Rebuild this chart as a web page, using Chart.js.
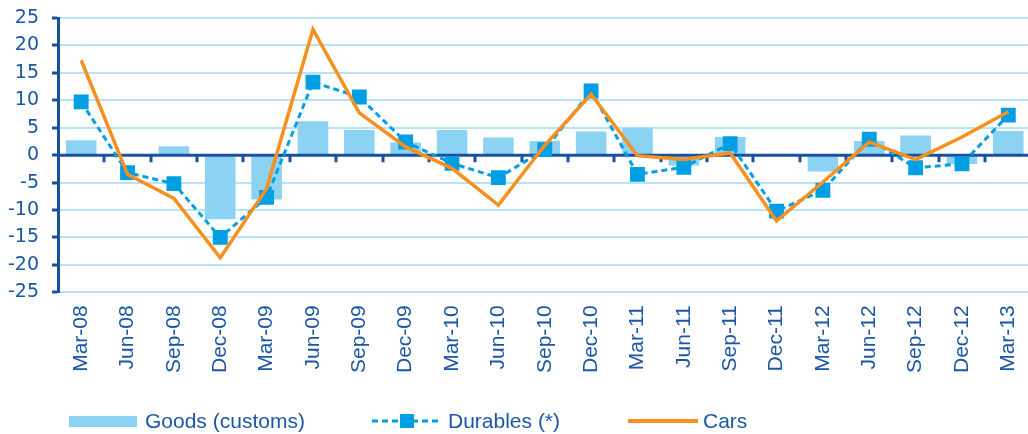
<!DOCTYPE html>
<html>
<head>
<meta charset="utf-8">
<script src="https://cdn.jsdelivr.net/npm/chart.js@4.4.1/dist/chart.umd.min.js"></script>
<style>
  html, body { margin: 0; padding: 0; background: #ffffff; overflow: hidden; }
  #wrap { position: relative; width: 1028px; height: 434px; overflow: hidden; }
  #c { position: absolute; left: 0; top: 0; }
  .lg { position: absolute; font-family: "Liberation Sans", Arial, sans-serif; font-size: 21px; line-height: 24px; color: #1c57a5; white-space: nowrap; }
  .sw { position: absolute; }
</style>
</head>
<body>
<div id="wrap">
  <canvas id="c" width="1042" height="434"></canvas>
  <div class="sw" style="left:69px; top:416px; width:68px; height:11px; background:#8cd2f2;"></div>
  <div class="lg" style="left:145px; top:409px;">Goods (customs)</div>
  <svg class="sw" style="left:372px; top:412px;" width="70" height="18">
    <line x1="0" y1="9" x2="70" y2="9" stroke="#009fe3" stroke-width="3" stroke-dasharray="6,4"/>
    <rect x="28" y="2" width="14" height="14" fill="#009fe3"/>
  </svg>
  <div class="lg" style="left:448px; top:409px;">Durables (*)</div>
  <div class="sw" style="left:628px; top:419px; width:70px; height:4px; background:#f7901e;"></div>
  <div class="lg" style="left:703px; top:409px;">Cars</div>
</div>
<script>
const categories = ["Mar-08","Jun-08","Sep-08","Dec-08","Mar-09","Jun-09","Sep-09","Dec-09",
  "Mar-10","Jun-10","Sep-10","Dec-10","Mar-11","Jun-11","Sep-11","Dec-11",
  "Mar-12","Jun-12","Sep-12","Dec-12","Mar-13"];
const goods =    [2.7, 0, 1.6, -11.7, -8.1, 6.2, 4.6, 2.3, 4.6, 3.2, 2.6, 4.3, 5.0, -1.9, 3.3, 0, -3.0, 2.6, 3.6, -1.6, 4.4];
const durables = [9.7, -3.2, -5.2, -15.0, -7.7, 13.3, 10.6, 2.4, -1.5, -4.1, 1.0, 11.7, -3.5, -2.2, 2.1, -10.2, -6.4, 2.9, -2.3, -1.6, 7.3];
const cars =     [17.3, -3.5, -7.9, -18.7, -6.1, 22.9, 7.7, 1.5, -2.4, -9.1, 1.8, 11.1, -0.1, -0.8, 0.4, -12.0, -4.9, 2.4, -0.8, 3.3, 7.9];
const yTicks = [-25, -20, -15, -10, -5, 0, 5, 10, 15, 20, 25];

const TEXT = '#1c57a5';
const AXIS = '#1b4fa0';
const GRID = '#b7e3f6';

const zeroLine = {
  id: 'zeroLine',
  afterDatasetDraw(chart, args) {
    if (args.index !== 0) return;
    const {ctx, chartArea, scales} = chart;
    const y = scales.y.getPixelForValue(0);
    ctx.save();
    ctx.strokeStyle = AXIS;
    ctx.lineWidth = 3;
    ctx.beginPath();
    ctx.moveTo(chartArea.left, y);
    ctx.lineTo(chartArea.right, y);
    ctx.stroke();
    ctx.beginPath();
    for (let i = 1; i < categories.length; i++) {
      const x = Math.round((scales.x.getPixelForValue(i - 1) + scales.x.getPixelForValue(i)) / 2);
      ctx.moveTo(x, y);
      ctx.lineTo(x, y + 7);
    }
    ctx.stroke();
    ctx.restore();
  }
};

new Chart(document.getElementById('c'), {
  type: 'bar',
  data: {
    labels: categories,
    datasets: [
      {
        label: 'Goods (customs)',
        data: goods,
        backgroundColor: '#8cd2f2',
        borderWidth: 0,
        barPercentage: 0.66,
        categoryPercentage: 1,
        order: 2
      },
      {
        type: 'line',
        label: 'Durables (*)',
        data: durables,
        borderColor: '#009fe3',
        backgroundColor: '#009fe3',
        borderWidth: 3,
        borderDash: [6, 4],
        pointStyle: 'rect',
        pointRadius: 10.5,
        pointBorderWidth: 0,
        pointBackgroundColor: '#009fe3',
        tension: 0,
        fill: false,
        order: 1
      },
      {
        type: 'line',
        label: 'Cars',
        data: cars,
        borderColor: '#f7901e',
        backgroundColor: '#f7901e',
        borderWidth: 3.5,
        pointRadius: 0,
        tension: 0,
        fill: false,
        order: 0
      }
    ]
  },
  options: {
    responsive: false,
    animation: false,
    layout: { padding: { top: 18, bottom: 48, left: 0, right: 0 } },
    plugins: {
      legend: { display: false },
      tooltip: { enabled: false }
    },
    scales: {
      x: {
        offset: true,
        afterFit(scale) { scale.paddingLeft = 0; scale.paddingRight = 0; },
        grid: { display: false, drawTicks: false },
        border: { display: false },
        ticks: {
          autoSkip: false,
          minRotation: 90,
          maxRotation: 90,
          padding: 13,
          color: TEXT,
          font: { family: '"Liberation Sans", Arial, sans-serif', size: 21 }
        }
      },
      y: {
        min: -25,
        max: 25,
        afterBuildTicks(scale) { scale.ticks = yTicks.map(v => ({ value: v })); },
        afterFit(scale) { scale.width = 58; scale.paddingTop = 0; scale.paddingBottom = 0; },
        grid: { color: GRID, lineWidth: 2, tickColor: AXIS, tickLength: 6, tickWidth: 3 },
        border: { display: true, color: AXIS, width: 3 },
        ticks: {
          autoSkip: false,
          padding: 13,
          color: TEXT,
          font: { family: '"DejaVu Sans", sans-serif', size: 19 }
        }
      }
    }
  },
  plugins: [zeroLine]
});
</script>
</body>
</html>
